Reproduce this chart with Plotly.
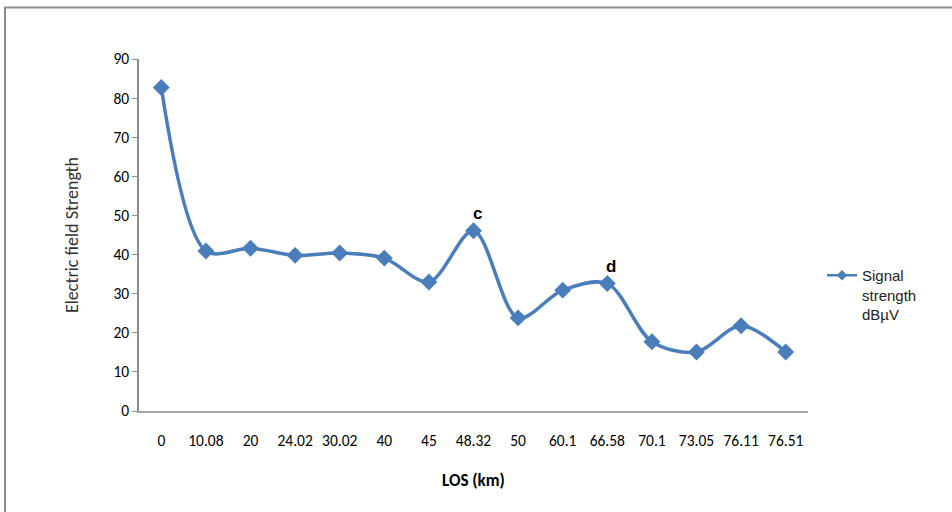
import plotly.graph_objects as go

distances = ["0", "10.08", "20", "24.02", "30.02", "40", "45", "48.32", "50",
             "60.1", "66.58", "70.1", "73.05", "76.11", "76.51"]
signal = [82.7, 40.9, 41.6, 39.8, 40.4, 39.1, 33.0, 46.1, 23.8,
          30.9, 32.6, 17.7, 15.1, 21.8, 15.1]
series_name = "Signal<br>strength<br>dBµV"
y_ticks = [0, 10, 20, 30, 40, 50, 60, 70, 80, 90]
point_labels = {"48.32": "c", "66.58": "d"}

BLUE = "#4A7EBB"
TICKFONT = dict(family="Carlito, Calibri, Liberation Sans Narrow, Liberation Sans, sans-serif", size=15.5, color="#000000")

fig = go.Figure()
fig.add_trace(go.Scatter(
    x=distances, y=signal, name=series_name, mode="lines+markers", showlegend=False,
    line=dict(color=BLUE, width=3.5, shape="spline", smoothing=0.9),
    marker=dict(symbol="diamond", size=13, color=BLUE),
))
# legend entry (smaller marker, as in the reference legend)
fig.add_trace(go.Scatter(
    x=[None], y=[None], name=series_name, mode="lines+markers",
    line=dict(color=BLUE, width=2.5),
    marker=dict(symbol="diamond", size=8, color=BLUE),
))

for cat, txt in point_labels.items():
    i = distances.index(cat)
    fig.add_annotation(x=i, y=signal[i], text="<b>%s</b>" % txt, showarrow=False,
                       xshift=4, yshift=17, font=dict(family="Liberation Sans, Arial, sans-serif", size=17, color="#000"))

L, R, T, B = 139, 144, 59, 101
W, H = 952, 512
pw, ph = W - L - R, H - T - B

# outer border (chart area)
fig.add_shape(type="rect", xref="paper", yref="paper",
              x0=(5 - L) / pw, x1=(970 - L) / pw,
              y0=(H - B - 530) / ph, y1=(H - B - 7.5) / ph,
              line=dict(color="#8c8c8c", width=2), fillcolor="rgba(0,0,0,0)", layer="below")

fig.update_layout(
    width=W, height=H,
    margin=dict(l=L, r=R, t=T, b=B),
    paper_bgcolor="white", plot_bgcolor="white",
    showlegend=True,
    legend=dict(x=(822 - L) / pw, y=(H - B - 259) / ph, xanchor="left", yanchor="top",
                valign="top", font=dict(family="Liberation Sans, Arial, sans-serif", size=15, color="#222"),
                bgcolor="rgba(0,0,0,0)", itemwidth=30, tracegroupgap=0),
    xaxis=dict(type="category", range=[-0.5, len(distances) - 0.5], showgrid=False,
               showline=True, linecolor="#a6a6a6", linewidth=2, ticks="", zeroline=False,
               tickfont=TICKFONT, ticklabelstandoff=14,
               title=dict(text="<b>LOS (km)</b>", standoff=26,
                          font=dict(family="Carlito, Calibri, Liberation Sans, sans-serif", size=17, color="#000"))),
    yaxis=dict(range=[0, 90], tickvals=y_ticks, showgrid=False, zeroline=False,
               showline=True, linecolor="#8c8c8c", linewidth=1.5, ticks="outside", ticklen=5,
               tickcolor="#8c8c8c", tickfont=TICKFONT, ticklabelstandoff=0,
               title=dict(text="Electric field Strength", standoff=30,
                          font=dict(family="Carlito, Calibri, Liberation Sans, sans-serif", size=18, color="#333"))),
)

fig.write_html("out.html")
